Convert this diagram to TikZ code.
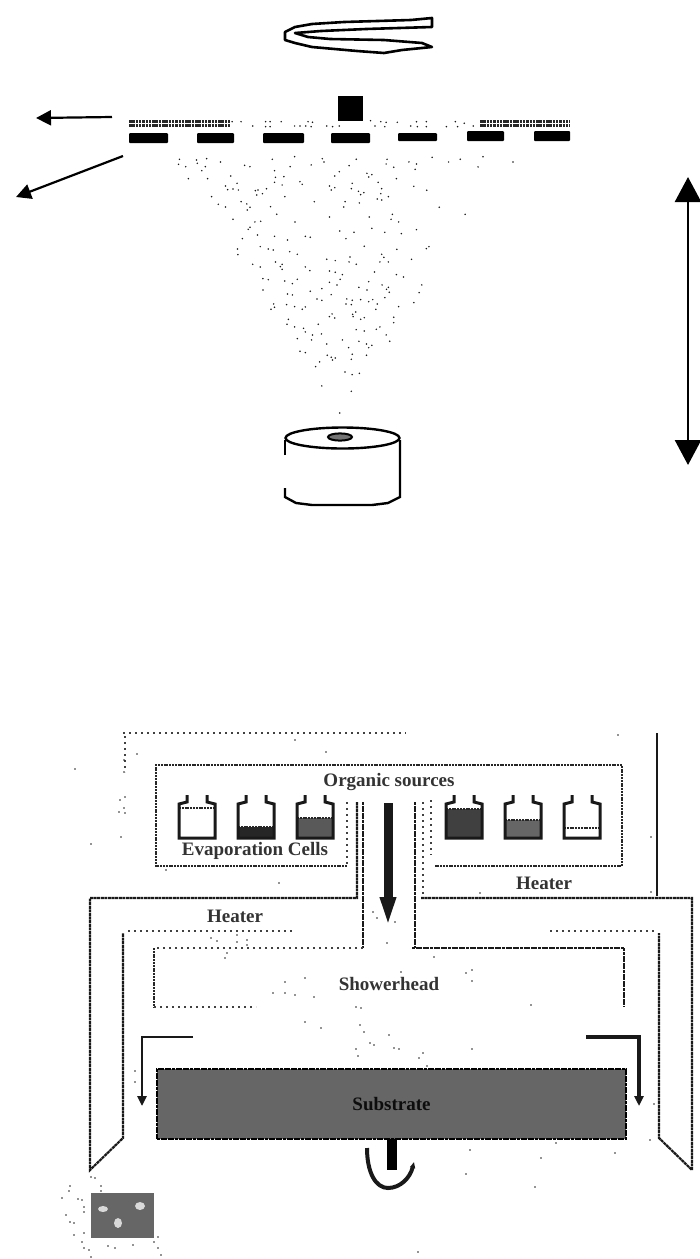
\documentclass[tikz,border=0pt]{standalone}
\usepackage{fontspec}
\setmainfont{Liberation Serif}
\usetikzlibrary{arrows.meta,positioning,calc}
\begin{document}
\begin{tikzpicture}[
  x=1pt, y=-1pt,
  font=\fontsize{19}{21}\selectfont\bfseries,
  bar/.style={fill=black, rounded corners=1pt, inner sep=0pt, outer sep=0pt, minimum height=10pt},
  lab/.style={inner sep=0pt, text=black!80},
  substr/.style={draw=black, line width=2pt, dash pattern=on 3pt off 0.6pt, fill=black!60, inner sep=0pt, outer sep=0pt, minimum width=469pt, minimum height=70pt},
  wall/.style={line width=2.2pt, dash pattern=on 3pt off 0.6pt, black!90},
  faint/.style={line width=1.4pt, dash pattern=on 2pt off 4pt, black!75},
  grit/.style={line width=2pt, dash pattern=on 2pt off 0.8pt, black!85},
  arr/.style={-{Stealth[inset=0pt, length=15pt, width=15pt]}, line width=2.2pt},
  dblarr/.style={{Stealth[inset=0pt, length=25pt, width=26pt]}-{Stealth[inset=0pt, length=25pt, width=26pt]}, line width=2.6pt},
  flowarr/.style={-{Stealth[inset=0pt, length=10pt, width=9pt]}, line width=2.6pt, black!90}]
\useasboundingbox (0,0) rectangle (700,1259);
% source above the mask
\draw[line width=2.6pt, line join=round] (432,18) -- (411,20) -- (344,22) -- (312,24) -- (295,27) -- (285,32) -- (285,40) -- (295,43) -- (312,47) -- (357,51) -- (384,53) -- (402,50) -- (432,47) -- (422,43) -- (384,40) -- (330,39) -- (308,37) -- (295,33) -- (321,31) -- (366,29) -- (432,27) -- cycle;
\node[fill=black, inner sep=0pt, minimum width=25pt, minimum height=25pt] (block) at (350,108.5) {};
\foreach \y in {121.5,125.5} {
  \draw[line width=2.8pt, dash pattern=on 2.5pt off 0.8pt, black!85] (129,\y) -- (230,\y);
  \draw[line width=2.8pt, dash pattern=on 2.5pt off 0.8pt, black!85] (480,\y) -- (570,\y);
}
% mask bars
\foreach \n/\xa/\xb/\yc/\h in {1/129/168/138/10,2/197/234/138/10,3/263/304/138/10,4/331/370/138/10,5/398/437/137/8,6/467/504/136/10,7/534/570/136/10}
  \node[bar, minimum width={(\xb-\xa)*1pt}, minimum height=\h pt] (bar\n) at ({(\xa+\xb)/2},\yc) {};
% plume, read off in crop units
\begin{scope}[x=0.4464pt, y=-0.3333pt]
\foreach \a/\b in {520/365,540/365,566/378,595/365,605/365,595/380,605/380,630/365,660/378,672/378,690/365,700/367,685/378,697/380,732/378,745/380,760/378,830/362,840/378,853/365,865/367,862/380,890/367,920/378,933/365,935/380,955/365,955/380,1000/380,1020/365,1025/380,1040/370,1060/378,
 402/478,400/493,416/500,440/480,442/490,463/476,460/500,452/512,494/486,548/496,560/500,610/478,660/470,650/500,697/495,722/476,726/486,798/478,782/497,867/478,865/492,882/502,916/486,933/492,930/508,968/472,1005/486,1031/478,1082/470,1071/501,1149/486,
 422/536,465/536,517/528,615/512,617/532,636/530,615/547,632/555,672/545,677/553,760/515,750/528,822/520,833/524,826/531,847/547,888/536,
 505/558,510/569,522/567,531/550,534/570,572/572,578/570,575/585,588/581,597/566,638/590,738/558,742/570,750/563,789/550,787/566,803/574,815/578,808/584,855/566,853/581,870/590,845/597,855/600,927/559,956/571,
 474/590,489/613,505/621,540/605,553/612,560/622,554/630,606/620,620/643,704/605,773/605,770/621,805/609,984/622,1042/643,
 522/658,571/666,584/664,560/682,556/688,661/666,738/651,827/651,879/643,876/658,893/666,543/716,577/705,615/709,644/720,684/709,695/712,761/693,793/697,775/716,833/685,862/697,899/701,933/689,
 532/747,533/764,583/740,601/747,612/750,649/755,666/763,816/739,889/748,955/746,961/740,566/793,583/801,617/786,632/793,628/800,632/808,684/801,694/812,732/778,751/782,784/771,782/786,798/793,855/763,860/772,851/786,870/786,922/778,
 738/813,751/817,767/824,762/838,839/816,888/824,904/831,589/836,601/839,638/843,655/851,666/838,738/847,755/855,826/845,856/855,870/862,872/877,866/868,945/855,939/878,589/870,644/882,655/885,695/874,721/866,742/884,804/862,822/870,
 710/897,721/901,777/897,789/901,775/912,787/914,808/899,826/905,835/899,862/893,845/912,842/928,893/920,927/908,613/912,615/922,607/928,642/914,660/920,677/928,684/921,
 738/950,744/942,750/954,790/943,797/936,791/950,808/958,816/953,882/952,882/968,646/958,643/973,660/981,680/985,684/996,700/1005,720/1002,713/973,798/989,816/993,843/988,851/981,865/1005,873/1024,666/1016,698/1020,732/1032,767/1020,781/1043,804/1024,821/1032,833/1036,826/1043,672/1054,684/1058,733/1066,742/1072,751/1074,745/1080,789/1063,787/1078,821/1066,716/1086,707/1100,773/1116,789/1124,805/1120,721/1158,787/1174,761/1239}
  \fill[black!90] (\a,\b) circle (0.85pt);
\end{scope}
% can
\draw[line width=2.4pt] (285,455) -- (285,440);
\draw[line width=2.4pt] (400,440) -- (400,497) -- (388,503) -- (372,505) -- (312,505) -- (296,503) -- (285,497) -- (285,488);
\draw[line width=2.4pt, fill=white] (342.5,438) ellipse (57pt and 10.5pt);
\draw[line width=2pt, fill=black!55] (340,437) ellipse (12pt and 3.6pt);
% arrows
\coordinate (padtail) at (112,117);
\coordinate (padtip) at (36,118);
\coordinate (ringtail) at (123,156);
\coordinate (ringtip) at (16,197);
\coordinate (gaptop) at (688,177);
\coordinate (gapbot) at (688,465);
\draw[arr] (padtail) -- (padtip);
\draw[arr] (ringtail) -- (ringtip);
\draw[dblarr] (gaptop) -- (gapbot);
% reactor outline
\draw[faint] (123,733) -- (406,733);
\draw[faint] (125,736) -- (125,772);
\draw[line width=1.8pt, black!90] (657,733) -- (657,896);
\draw[grit] (347,866) -- (156,866) -- (156,765) -- (622,765) -- (622,866) -- (434,866);
\draw[faint] (347,802) -- (347,866);
\draw[wall] (357,802) -- (357,898) -- (90,898) -- (90,1170) -- (123,1138) -- (123,933);
\draw[wall] (363,802) -- (363,948);
\draw[wall] (415,802) -- (415,948);
\draw[faint] (423,802) -- (423,895);
\draw[faint] (431,800) -- (431,855);
\draw[wall] (421,898) -- (692,898) -- (692,1170) -- (659,1138) -- (659,933);
\draw[faint] (128,931) -- (295,931);
\draw[faint] (550,931) -- (655,931);
\draw[faint] (363,948) -- (154,948);
\draw[grit] (154,948) -- (154,1007);
\draw[faint] (154,1007) -- (256,1007);
\draw[wall] (412,948) -- (624,948) -- (624,1007);
% evaporation cells
\foreach \n/\xa/\lev/\shade in {1/179/808/0,2/238/827/85,3/297/818/65,4/446/809/75,5/505/820/60,6/564/828/0} {
  \fill[black!\shade] (\xa,\lev) rectangle ++(36,{838-\lev});
  \draw[grit] (\xa,\lev) -- ++(36,0);
  \draw[line width=3pt, black!90] (\xa+8,795) -- (\xa+8,802) -- (\xa,804) -- (\xa,838) -- (\xa+36,838) -- (\xa+36,804) -- (\xa+28,802) -- (\xa+28,795);
  \coordinate (cell\n) at (\xa+18,838);
}
% flow arrows
\coordinate (flowtop) at (388,803);
\coordinate (flowtip) at (388,928);
\draw[line width=9pt, black!90, -{Stealth[inset=0pt, length=31pt, width=14pt]}] (flowtop) -- (flowtip);
\coordinate (leftstart) at (193,1037);
\coordinate (leftbend) at (142,1037);
\coordinate (lefttip) at (142,1106);
\coordinate (rightstart) at (586,1037);
\coordinate (rightbend) at (639,1037);
\coordinate (righttip) at (639,1106);
\draw[flowarr] (leftstart) -- (leftbend) -- (lefttip);
\draw[flowarr, line width=3.6pt] (rightstart) -- (rightbend) -- (righttip);
% substrate and holder
\node[substr, text=black!95] (substrate) at (391.5,1104) {Substrate};
\node[fill=black, inner sep=0pt, minimum width=10pt, anchor=north, minimum height=31pt] (shaft) at (substrate.south) {};
\coordinate (spinleft) at (367,1148);
\coordinate (spinlow) at (388,1188);
\coordinate (spinright) at (414,1162);
\draw[line width=4pt, black!90, -{Stealth[inset=0pt, length=6pt, width=5pt]}] (spinleft) .. controls (367,1173) and (376,1188) .. (spinlow) .. controls (400,1188) and (410,1178) .. (spinright);
% small patch bottom left
\node[fill=black!60, inner sep=0pt, minimum width=63pt, minimum height=45pt] (patch) at (122.5,1215.5) {};
\fill[black!15] (103,1209) ellipse (5pt and 3pt);
\fill[black!15] (118,1223) ellipse (4pt and 5pt);
\fill[black!15] (140,1206) ellipse (5pt and 4pt);
% labels
\node[lab] (organic) at (389,782) {Organic sources};
\node[lab] (evap) at (255,851) {Evaporation Cells};
\node[lab] (heaterb) at (544,883) {Heater};
\node[lab] (heatera) at (235,916) {Heater};
\node[lab] (shower) at (389,984) {Showerhead};
% stray specks, lower picture
\foreach \a/\b in {137/754,124/760,124/772,75/769,120/800,125/797,124/808,119/812,125/813,121/837,91/844,326/752,295/740,279/883,166/870,618/735,651/837,651/892,480/893,434/957,401/972,472/970,466/973,472/981,387/943,373/912,377/918,395/922,227/953,211/938,217/941,237/935,237/942,247/940,225/958,247/945,285/982,305/978,273/993,285/993,295/995,314/997,
 305/1022,321/1028,360/1025,364/1032,389/1035,370/1043,374/1045,394/1048,399/1049,423/1053,419/1058,427/1066,356/1049,358/1056,472/1049,356/1007,361/1008,531/1005,470/1150,541/1158,466/1174,535/1187,615/1153,650/1140,654/1104,556/1143,418/1252,135/1071,135/1082,
 70/1186,69/1191,62/1198,78/1199,82/1200,84/1207,84/1212,66/1215,70/1222,74/1223,74/1235,84/1233,82/1242,84/1248,89/1250,91/1257,108/1246,115/1248,133/1245,154/1242,158/1237,158/1248,161/1255,91/1177,95/1178,101/1186,101/1191}
  \fill[black!85] (\a,\b) circle (0.85pt);
\end{tikzpicture}
\end{document}
